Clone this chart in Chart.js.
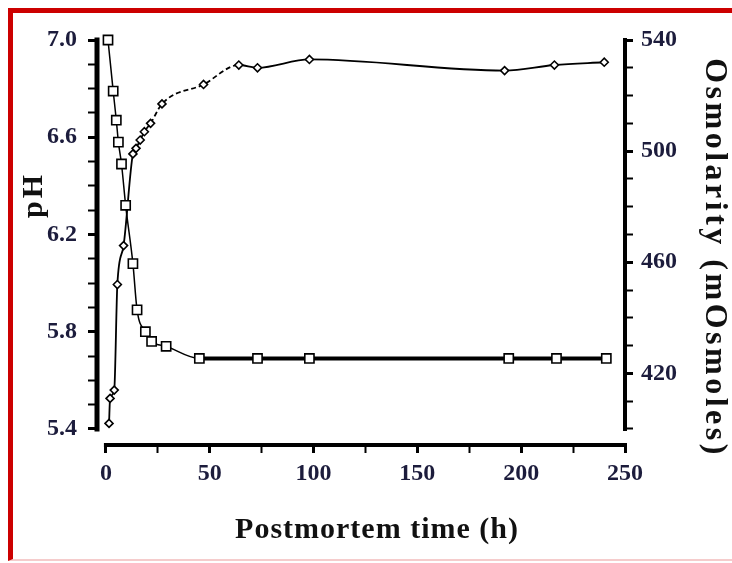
<!DOCTYPE html>
<html>
<head>
<meta charset="utf-8">
<script src="https://cdn.jsdelivr.net/npm/chart.js@4.4.0/dist/chart.umd.min.js"></script>
<style>
    html, body { margin: 0; padding: 0; background: #fff; }
    #wrap { position: relative; width: 732px; height: 563px; overflow: hidden; }
    #frame {
        position: absolute; left: 8px; top: 8px; width: 730px; height: 546px;
        border-top: 5px solid #cc0000; border-left: 5px solid #cc0000;
        border-bottom: 2px solid #f5cccc;
    }
    canvas { position: absolute; left: 0; top: 0; }
</style>
</head>
<body>
<div id="wrap">
    <div id="frame"></div>
    <canvas id="chart" width="732" height="563"></canvas>
</div>
<script>
// pH, open squares, left axis
let phTimes = [1, 3.5, 5, 6, 7.5, 9.5, 13, 15, 19, 22, 29, 45, 73, 98, 194, 217, 241]
let phValues = [7.0, 6.79, 6.67, 6.58, 6.49, 6.32, 6.08, 5.89, 5.80, 5.76, 5.74, 5.69, 5.69, 5.69, 5.69, 5.69, 5.69]

// osmolarity, open diamonds, right axis
let osmTimes = [1.5, 2, 4, 5.5, 8.5, 13, 14.5, 16.5, 18.5, 21.5, 27, 47, 64, 73, 98, 192, 216, 240]
let osmValues = [402, 411, 414, 452, 466, 499, 501, 504, 507, 510, 517, 524, 531, 530, 533, 529, 531, 532]

// labelled ticks
let xTicks = [0, 50, 100, 150, 200, 250]
let phTicks = [5.4, 5.8, 6.2, 6.6, 7.0]
let osmTicks = [420, 460, 500, 540]

const serif = 'Liberation Serif'
const tickFont = { family: serif, weight: 'bold', size: 24 }
const labelColor = '#1c1c3c'

function isLabelled(list, v) {
    return list.some((t) => Math.abs(t - v) < 1e-6)
}

// axis lines are drawn only over the labelled range, like the original
const axisLines = {
    id: 'axisLines',
    beforeDatasetsDraw(chart) {
        const { ctx, chartArea, scales } = chart
        ctx.save()
        ctx.strokeStyle = '#000'
        ctx.lineCap = 'square'
        ctx.lineWidth = 5
        ctx.beginPath()
        ctx.moveTo(chartArea.left, scales.y.getPixelForValue(5.4))
        ctx.lineTo(chartArea.left, scales.y.getPixelForValue(phTicks.at(-1)))
        ctx.stroke()
        ctx.lineWidth = 4
        ctx.beginPath()
        ctx.moveTo(chartArea.right, scales.y2.getPixelForValue(400))
        ctx.lineTo(chartArea.right, scales.y2.getPixelForValue(osmTicks.at(-1)))
        ctx.stroke()
        ctx.beginPath()
        ctx.moveTo(scales.x.getPixelForValue(xTicks[0]), chartArea.bottom)
        ctx.lineTo(scales.x.getPixelForValue(xTicks.at(-1)), chartArea.bottom)
        ctx.stroke()
        ctx.restore()
    }
}

const axisTitles = {
    id: 'axisTitles',
    afterDraw(chart) {
        const ctx = chart.ctx
        ctx.save()
        ctx.fillStyle = '#111'
        ctx.textAlign = 'center'
        ctx.textBaseline = 'middle'

        ctx.font = 'bold 30px "Liberation Serif"'
        ctx.letterSpacing = '1px'
        ctx.fillText('Postmortem time (h)', 377, 530)

        ctx.save()
        ctx.translate(34, 195)
        ctx.rotate(-Math.PI / 2)
        ctx.letterSpacing = '3px'
        ctx.fillText('pH', 0, 0)
        ctx.restore()

        ctx.save()
        ctx.translate(714, 258)
        ctx.rotate(Math.PI / 2)
        ctx.font = 'bold 32px "Liberation Serif"'
        ctx.letterSpacing = '3.5px'
        ctx.fillText('Osmolarity (mOsmoles)', 0, 0)
        ctx.restore()

        ctx.restore()
    }
}

function tickGrid(list, len) {
    return {
        drawOnChartArea: false,
        drawTicks: true,
        tickLength: len,
        tickColor: '#000',
        tickWidth: (c) => (c.tick && isLabelled(list, c.tick.value) ? 3 : 2)
    }
}

function setChart() {
    const data = {
        datasets: [{
            label: 'pH',
            data: phTimes.map((t, i) => ({ x: t, y: phValues[i] })),
            yAxisID: 'y',
            borderColor: '#000',
            borderWidth: 1.5,
            pointStyle: 'rect',
            pointRadius: 6.5,
            pointBackgroundColor: '#fff',
            pointBorderColor: '#000',
            pointBorderWidth: 1.6,
            cubicInterpolationMode: 'monotone',
            clip: false,
            segment: {
                borderWidth: (c) => (c.p0.parsed.x >= 44 ? 4 : 1.5)
            }
        }, {
            label: 'Osmolarity',
            data: osmTimes.map((t, i) => ({ x: t, y: osmValues[i] })),
            yAxisID: 'y2',
            borderColor: '#000',
            borderWidth: 1.8,
            pointStyle: 'rectRot',
            pointRadius: 4,
            pointBackgroundColor: '#fff',
            pointBorderColor: '#000',
            pointBorderWidth: 1.6,
            cubicInterpolationMode: 'monotone',
            clip: false,
            segment: {
                borderDash: (c) => (c.p0.parsed.x >= 21 && c.p1.parsed.x <= 65 ? [5, 3] : undefined)
            }
        }]
    }

    new Chart(document.getElementById('chart'), {
        type: 'line',
        data: data,
        plugins: [axisLines, axisTitles],
        options: {
            responsive: false,
            animation: false,
            layout: { padding: { top: 40, left: 0, right: 0, bottom: 0 } },
            plugins: {
                legend: { display: false },
                tooltip: { enabled: false }
            },
            scales: {
                x: {
                    type: 'linear',
                    min: -4.3,
                    max: 250,
                    border: { display: false },
                    grid: tickGrid(xTicks, 8),
                    ticks: {
                        stepSize: 25,
                        includeBounds: false,
                        autoSkip: false,
                        maxRotation: 0,
                        padding: 6,
                        color: labelColor,
                        font: tickFont,
                        callback: (v) => (isLabelled(xTicks, v) ? String(v) : '')
                    },
                    afterFit: (s) => { s.height = 118 }
                },
                y: {
                    position: 'left',
                    min: 5.334,
                    max: 7.0,
                    border: { display: false },
                    grid: tickGrid(phTicks, 9),
                    ticks: {
                        stepSize: 0.1,
                        includeBounds: false,
                        autoSkip: false,
                        padding: 11,
                        color: labelColor,
                        font: tickFont,
                        callback: (v) => (isLabelled(phTicks, v) ? v.toFixed(1) : '')
                    },
                    afterFit: (s) => { s.width = 97 }
                },
                y2: {
                    position: 'right',
                    min: 394.24,
                    max: 540,
                    border: { display: false },
                    grid: tickGrid(osmTicks, 8),
                    ticks: {
                        stepSize: 10,
                        includeBounds: false,
                        autoSkip: false,
                        padding: 8,
                        color: labelColor,
                        font: tickFont,
                        callback: (v) => (isLabelled(osmTicks, v) ? String(v) : '')
                    },
                    afterFit: (s) => { s.width = 107 }
                }
            }
        }
    })
}

setChart()
</script>
</body>
</html>
